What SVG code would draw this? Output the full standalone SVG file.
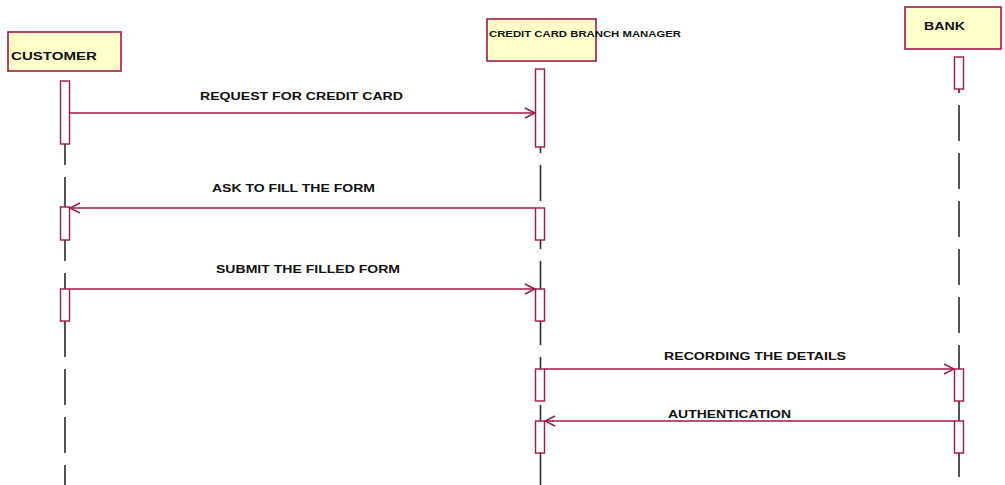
<svg xmlns="http://www.w3.org/2000/svg" width="1005" height="485" viewBox="0 0 1005 485">
<style>
.box{fill:#FFFFCC;stroke:#A3164B;stroke-width:1.6}
.act{fill:#FFFFFF;stroke:#A3164B;stroke-width:1.4}
.life{stroke:#2a2a2a;stroke-width:1.6;stroke-dasharray:36 12;fill:none}
.msg{stroke:#A3164B;stroke-width:1.4;fill:none}
.head{stroke:#A3164B;stroke-width:1.4;fill:none}
text{font-family:"Liberation Sans",Arial,sans-serif;font-weight:bold;fill:#111}
.lbl{font-size:11px}
.name{font-size:11px}
</style>
<rect width="1005" height="485" fill="#FFFFFF"/>
<g id="customer">
<rect class="box" x="8" y="32" width="113" height="39"/>
<text class="name" x="11" y="60" textLength="86" lengthAdjust="spacingAndGlyphs">CUSTOMER</text>
<line class="life" x1="65" y1="81" x2="65" y2="485"/>
<rect class="act" x="60.5" y="81" width="9" height="63"/>
<rect class="act" x="60.5" y="207" width="9" height="33"/>
<rect class="act" x="60.5" y="289" width="9" height="32"/>
</g>
<g id="ccbm">
<rect class="box" x="487" y="19" width="109" height="42"/>
<text x="489" y="37" font-size="9" textLength="192" lengthAdjust="spacingAndGlyphs">CREDIT CARD BRANCH MANAGER</text>
<line class="life" x1="540.5" y1="69" x2="540.5" y2="485"/>
<rect class="act" x="535.5" y="69" width="9" height="78"/>
<rect class="act" x="535.5" y="208" width="9" height="32"/>
<rect class="act" x="535.5" y="289" width="9" height="32"/>
<rect class="act" x="535.5" y="369" width="9" height="32"/>
<rect class="act" x="535.5" y="421" width="9" height="32"/>
</g>
<g id="bank">
<rect class="box" x="905" y="7" width="96" height="42"/>
<text class="name" x="924" y="30" textLength="41" lengthAdjust="spacingAndGlyphs">BANK</text>
<line class="life" x1="959" y1="57" x2="959" y2="485"/>
<rect class="act" x="954.5" y="57" width="9" height="32"/>
<rect class="act" x="954.5" y="369" width="9" height="32"/>
<rect class="act" x="954.5" y="421" width="9" height="32"/>
</g>
<g id="connectors">
<line class="msg" x1="69.5" y1="113" x2="535" y2="113"/>
<polyline class="head" points="525,108 535,113 525,118"/>
<text class="lbl" x="200" y="100" textLength="203" lengthAdjust="spacingAndGlyphs">REQUEST FOR CREDIT CARD</text>
<line class="msg" x1="535.5" y1="208" x2="70" y2="208"/>
<polyline class="head" points="80,203 70,208 80,213"/>
<text class="lbl" x="212" y="192" textLength="163" lengthAdjust="spacingAndGlyphs">ASK TO FILL THE FORM</text>
<line class="msg" x1="69.5" y1="289" x2="535" y2="289"/>
<polyline class="head" points="525,284 535,289 525,294"/>
<text class="lbl" x="216" y="273" textLength="184" lengthAdjust="spacingAndGlyphs">SUBMIT THE FILLED FORM</text>
<line class="msg" x1="544.5" y1="369" x2="954" y2="369"/>
<polyline class="head" points="944,364 954,369 944,374"/>
<text class="lbl" x="664" y="360" textLength="182" lengthAdjust="spacingAndGlyphs">RECORDING THE DETAILS</text>
<line class="msg" x1="954.5" y1="421" x2="545" y2="421"/>
<polyline class="head" points="555,416 545,421 555,426"/>
<text class="lbl" x="668" y="418" textLength="123" lengthAdjust="spacingAndGlyphs">AUTHENTICATION</text>
</g>
</svg>
